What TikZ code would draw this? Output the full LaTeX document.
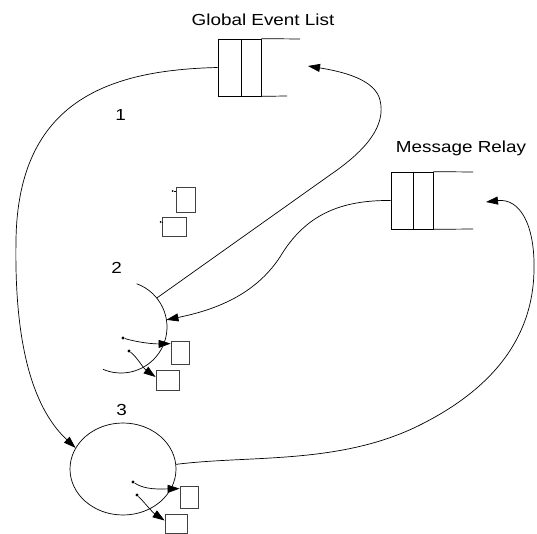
\documentclass[tikz,border=0pt]{standalone}
\usepackage{fontspec}
\setmainfont{Liberation Sans}
\usetikzlibrary{arrows.meta,shapes.geometric,calc}
\begin{document}
\begin{tikzpicture}[x=1pt,y=-1pt,line width=0.7pt,
  lbl/.style={font=\fontsize{16}{18}\selectfont, inner sep=0pt, anchor=base},
  qbox/.style={draw, inner sep=0pt, minimum width=#1, minimum height=57pt},
  sbox/.style={draw=black!75, line width=0.8pt, inner sep=0pt},
  dotn/.style={circle, fill, inner sep=0pt, minimum size=3.2pt},
  tip/.style={-{Triangle[length=12pt,width=8pt]}}]
\useasboundingbox (0,0) rectangle (537,534);

% labels
\node[lbl] (tGEL) at (263,26) {\scalebox{1.18}[1]{Global Event List}};
\node[lbl] (tMR) at (461,153) {\scalebox{1.18}[1]{Message Relay}};
\node[lbl] (t1) at (120.5,121) {\scalebox{1.18}[1]{1}};
\node[lbl] (t2) at (116.5,273) {\scalebox{1.18}[1]{2}};
\node[lbl] (t3) at (121.5,415) {\scalebox{1.18}[1]{3}};

% queues
\node[qbox=43pt] (q1) at (239.5,67.5) {};
\draw ($(q1.north west)+(24,0)$) -- ($(q1.south west)+(24,0)$);
\draw (q1.north east) -- (300,39);
\draw (q1.south east) -- (287,96);
\coordinate (q1in) at (308,66);

\node[qbox=42pt] (q2) at (412,200.5) {};
\draw ($(q2.north west)+(23,0)$) -- ($(q2.south west)+(23,0)$);
\draw (q2.north east) -- (473,172);
\draw (q2.south east) -- (473,229);
\coordinate (q2in) at (486,202);

% process 2 (arc)
\coordinate (c2) at (121,327);
\draw ($(c2)+(-70:46)$) arc[start angle=-70, end angle=113, radius=46];
\coordinate (a2out) at ($(c2)+(-39:46)$);
\coordinate (a2in) at ($(c2)+(-9:46)$);

% process 3 (ellipse)
\node[ellipse, draw, inner sep=0pt, minimum width=106pt, minimum height=92pt] (p3) at (123,469) {};

% small boxes
\node[sbox, minimum width=19pt, minimum height=25pt] (bA) at (185.5,199.5) {};
\node[sbox, minimum width=24pt, minimum height=19pt] (bB) at (174,226.5) {};
\node[sbox, minimum width=18pt, minimum height=23pt] (b21) at (180,352.5) {};
\node[sbox, minimum width=23pt, minimum height=20pt] (b22) at (167.5,380) {};
\node[sbox, minimum width=18pt, minimum height=22pt] (b31) at (189,497) {};
\node[sbox, minimum width=22pt, minimum height=19pt] (b32) at (176,523.5) {};

% tiny marks by upper boxes
\node[dotn, minimum size=2pt] (mA) at (172.5,191) {};
\draw[line width=0.5pt] (mA) -- (bA.west |- mA);
\node[dotn, minimum size=2pt] (mB) at (160.5,222) {};
\draw[line width=0.5pt] (mB) -- (bB.west |- mB);

% dots and small arrows
\node[dotn] (d21) at (123,338) {};
\node[dotn] (d22) at (129,351) {};
\node[dotn] (d31) at (133,482) {};
\node[dotn] (d32) at (137,495) {};
\draw[tip] (d21) .. controls (140,343) and (155,344) .. ($(b21.north west)+(0,3)$);
\draw[tip] (d22) .. controls (137,357) and (143,368) .. ($(b22.west)+(0,-3)$);
\draw[tip] (d31) .. controls (145,490) and (160,489) .. ($(b31.north west)+(0,3)$);
\draw[tip] (d32) .. controls (145,503) and (152,512) .. ($(b32.west)+(0,-3)$);

% main connectors
\draw[tip] (q1.west) .. controls (110,70) and (18,100) .. (16,240)
  .. controls (14,350) and (35,410) .. (p3.156);
\draw[tip] (a2out) -- (330,175) .. controls (368,149) and (386,125) .. (380,100)
  .. controls (375,80) and (345,72) .. (q1in);
\draw[tip] (q2.west) .. controls (340,200) and (305,215) .. (280,257)
  .. controls (255,295) and (215,310) .. (a2in);
\draw[tip] (p3.5) .. controls (250,455) and (340,465) .. (420,425)
  .. controls (490,390) and (533,340) .. (534,270)
  .. controls (535,225) and (520,198) .. (q2in);
\end{tikzpicture}
\end{document}
